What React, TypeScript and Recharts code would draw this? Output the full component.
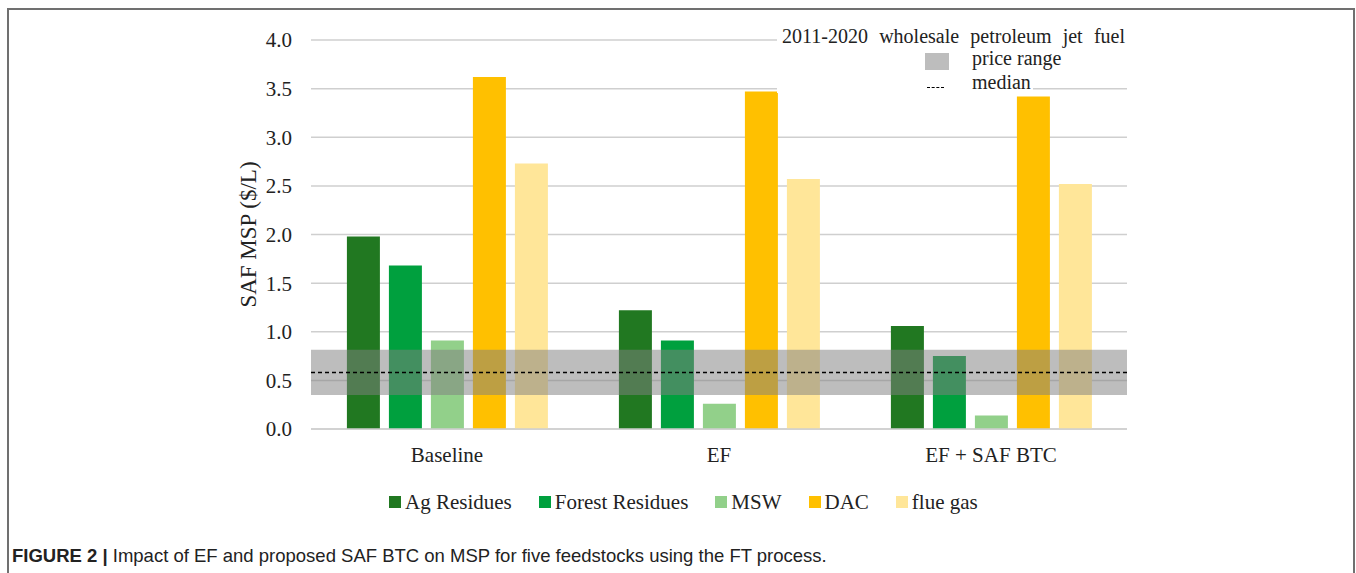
import React from 'react';
import {
  BarChart,
  Bar,
  XAxis,
  YAxis,
  CartesianGrid,
  ReferenceArea,
  ReferenceLine,
} from 'recharts';

const scenarios = ['Baseline', 'EF', 'EF + SAF BTC'];
const agResidues = [1.98, 1.22, 1.06];
const forestResidues = [1.68, 0.91, 0.75];
const msw = [0.91, 0.26, 0.14];
const dac = [3.62, 3.47, 3.42];
const flueGas = [2.73, 2.57, 2.52];

const yTicks = [0, 0.5, 1, 1.5, 2, 2.5, 3, 3.5, 4];

// 2011-2020 wholesale petroleum jet fuel
const priceLow = 0.35;
const priceHigh = 0.815;
const priceMedian = 0.58;

const series = [
  { key: 'ag', name: 'Ag Residues', color: '#217821', values: agResidues },
  { key: 'forest', name: 'Forest Residues', color: '#00a03e', values: forestResidues },
  { key: 'msw', name: 'MSW', color: '#92d08a', values: msw },
  { key: 'dac', name: 'DAC', color: '#ffc000', values: dac },
  { key: 'flue', name: 'flue gas', color: '#ffe699', values: flueGas },
];

const data = scenarios.map((s, i) => {
  const row: any = { scenario: s };
  series.forEach((ser) => {
    row[ser.key] = ser.values[i];
  });
  return row;
});

const serif = '"Liberation Serif", "Times New Roman", serif';

export default function App() {
  const YLabel = (props: any) => {
    const vb = props.viewBox;
    const cx = vb.x + 18;
    const cy = vb.y + vb.height / 2;
    return (
      <text
        x={cx}
        y={cy}
        transform={`rotate(-90 ${cx} ${cy})`}
        textAnchor="middle"
        dominantBaseline="central"
        fontFamily={serif}
        fontSize={23}
        fill="#222"
      >
        SAF MSP ($/L)
      </text>
    );
  };

  return (
    <div
      style={{
        position: 'absolute',
        left: 0,
        top: 0,
        width: 1356,
        height: 573,
        background: '#fff',
        overflow: 'hidden',
      }}
    >
      {/* figure frame */}
      <div
        style={{
          position: 'absolute',
          left: 7,
          top: 8,
          width: 1344,
          height: 580,
          borderLeft: '2px solid #707070',
          borderTop: '2px solid #707070',
          borderRight: '2px solid #707070',
        }}
      />

      <div style={{ position: 'absolute', left: 0, top: 0 }}>
        <BarChart
          width={1356}
          height={480}
          data={data}
          margin={{ top: 40, right: 229, left: 230, bottom: 21 }}
          barCategoryGap="13.2%"
          barGap={9}
        >
          <CartesianGrid vertical={false} stroke="#cfcfcf" strokeWidth={1.5} />
          <XAxis
            dataKey="scenario"
            axisLine={{ stroke: '#cfcfcf', strokeWidth: 1.5 }}
            tickLine={false}
            tickMargin={12}
            tick={{ fontFamily: serif, fontSize: 21, fill: '#222' }}
          />
          <YAxis
            width={81}
            domain={[0, 4]}
            ticks={yTicks}
            axisLine={false}
            tickLine={false}
            tickMargin={13}
            tickFormatter={(v: number) => v.toFixed(1)}
            tick={{ fontFamily: serif, fontSize: 21, fill: '#222' }}
            label={<YLabel />}
          />
          {series.map((s) => (
            <Bar
              key={s.key}
              dataKey={s.key}
              name={s.name}
              fill={s.color}
              isAnimationActive={false}
            />
          ))}
          <ReferenceArea
            y1={priceLow}
            y2={priceHigh}
            fill="#808080"
            fillOpacity={0.52}
            stroke="none"
            zIndex={350}
          />
          <ReferenceLine
            y={priceMedian}
            stroke="#000"
            strokeWidth={1.5}
            strokeDasharray="4 3"
            zIndex={360}
          />
        </BarChart>
      </div>

      {/* price range legend, top right */}
      <div style={{ position: 'absolute', left: 777, top: 22, width: 352, height: 28, background: '#fff' }} />
      <div style={{ position: 'absolute', left: 777, top: 48, width: 256, height: 45, background: '#fff' }} />
      <div
        style={{
          position: 'absolute',
          left: 782,
          top: 25,
          width: 343,
          fontFamily: serif,
          fontSize: 20,
          lineHeight: '22px',
          color: '#222',
          textAlign: 'justify',
          textAlignLast: 'justify',
          whiteSpace: 'nowrap',
        }}
      >
        2011-2020 wholesale petroleum jet fuel
      </div>
      <div style={{ position: 'absolute', left: 925, top: 53, width: 24, height: 17, background: '#bdbdbd' }} />
      <div
        style={{
          position: 'absolute',
          left: 972,
          top: 47,
          fontFamily: serif,
          fontSize: 20,
          lineHeight: '22px',
          color: '#222',
        }}
      >
        price range
      </div>
      <div style={{ position: 'absolute', left: 927, top: 87, width: 17, borderTop: '1.5px dashed #000' }} />
      <div
        style={{
          position: 'absolute',
          left: 972,
          top: 71,
          fontFamily: serif,
          fontSize: 20,
          lineHeight: '22px',
          color: '#222',
        }}
      >
        median
      </div>

      {/* series legend */}
      <div
        style={{
          position: 'absolute',
          left: 389,
          top: 490,
          display: 'flex',
          alignItems: 'center',
          gap: 27,
          fontFamily: serif,
          fontSize: 21,
          lineHeight: '24px',
          color: '#222',
        }}
      >
        {series.map((s) => (
          <div key={s.key} style={{ display: 'flex', alignItems: 'center', gap: 4 }}>
            <div style={{ width: 12, height: 12, background: s.color }} />
            <span>{s.name}</span>
          </div>
        ))}
      </div>

      {/* caption */}
      <div
        style={{
          position: 'absolute',
          left: 12,
          top: 545,
          fontFamily: '"Liberation Sans", Arial, sans-serif',
          fontSize: 18.5,
          lineHeight: '22px',
          color: '#222',
          whiteSpace: 'nowrap',
        }}
      >
        <b>FIGURE 2 |</b> Impact of EF and proposed SAF BTC on MSP for five feedstocks using the FT process.
      </div>
    </div>
  );
}
